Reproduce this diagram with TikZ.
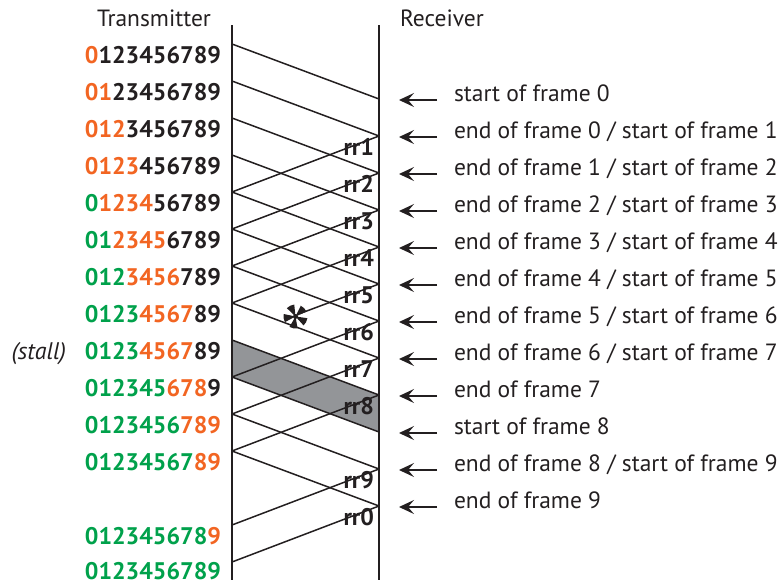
\documentclass[tikz,border=0pt]{standalone}
\usepackage{fontspec}
\setmainfont{PT Sans}
\usetikzlibrary{arrows.meta}
\definecolor{org}{HTML}{F26522}
\definecolor{grn}{HTML}{00A14B}
\definecolor{ink}{HTML}{231F20}
\definecolor{stallgray}{HTML}{939598}
\newcommand\dgt[3]{\textcolor{grn}{#1}\textcolor{org}{#2}\textcolor{ink}{#3}}
\begin{document}
\begin{tikzpicture}[x=1pt,y=-1pt,
  every node/.style={inner sep=0pt,outer sep=0pt,text=ink},
  axis/.style={draw=ink,line width=2pt},
  msg/.style={draw=ink,line width=1.5pt},
  digits/.style={anchor=base east,font=\fontsize{24}{24}\selectfont\bfseries},
  rrlab/.style={anchor=base east,font=\fontsize{24}{24}\selectfont\bfseries},
  evlab/.style={anchor=base west,font=\fontsize{23.5}{24}\selectfont},
  head/.style={anchor=base west,font=\fontsize{23.5}{24}\selectfont},
  evarrow/.style={draw=ink,line width=1.5pt,-{Stealth[length=15pt,width=14pt,inset=6pt]}},
  spoke/.style={fill=ink}]
\useasboundingbox (0,0) rectangle (780,584);
% axes
\coordinate (Ttop) at (232,25); \coordinate (Tbot) at (232,580);
\coordinate (Rtop) at (379,25); \coordinate (Rbot) at (379,580);
% event points
\foreach \k in {0,...,11} {
  \coordinate (L\k) at (232,{44+37*\k});
  \coordinate (R\k) at (379,{99+37*\k});
}
\coordinate (L13) at (232,525);
\coordinate (L14) at (232,562);
% stall region
\fill[stallgray] (L8) -- (R8) -- (R9) -- (L9) -- cycle;
\draw[axis] (Ttop) -- (Tbot);
\draw[axis] (Rtop) -- (Rbot);
% frames
\foreach \k in {0,...,11} { \draw[msg] (L\k) -- (R\k); }
% acknowledgements
\draw[msg] (R1) -- (L4);
\draw[msg] (R2) -- (L5);
\draw[msg] (R3) -- (L6);
\draw[msg] (R4) -- (L7);
\coordinate (lost) at (300,313.5);
\draw[msg] (R5) -- (lost);
\draw[msg] (R6) -- (L9);
\draw[msg] (R7) -- (L10);
\draw[msg] (R8) -- (L11);
\draw[msg] (R10) -- (L13);
\draw[msg] (R11) -- (L14);
% asterisk (lost acknowledgement)
\coordinate (ast) at (295.5,316.5);
\foreach \a in {100,172,244,316,388} {
  \fill[spoke] (ast) -- ++({\a-20}:12) arc[start angle={\a-20}, end angle={\a+20}, radius=12] -- cycle;
}
\fill[ink] (ast) circle[radius=2.5];
% rr labels
\foreach \k/\t in {1/rr1,2/rr2,3/rr3,4/rr4,5/rr5,6/rr6,7/rr7,8/rr8,10/rr9,11/rr0} {
  \node[rrlab] (rr\k) at ([xshift=-5pt,yshift=-19pt]R\k) {\t};
}
% headers
\node[head] (tx) at (97,26) {Transmitter};
\node[head] (rx) at (400,26) {Receiver};
% transmitter windows
\node[digits] (w0) at (221,63) {\dgt{}{0}{123456789}};
\node[digits] (w1) at (221,100) {\dgt{}{01}{23456789}};
\node[digits] (w2) at (221,137) {\dgt{}{012}{3456789}};
\node[digits] (w3) at (221,174) {\dgt{}{0123}{456789}};
\node[digits] (w4) at (221,211) {\dgt{0}{1234}{56789}};
\node[digits] (w5) at (221,248) {\dgt{01}{2345}{6789}};
\node[digits] (w6) at (221,285) {\dgt{012}{3456}{789}};
\node[digits] (w7) at (221,322) {\dgt{0123}{4567}{89}};
\node[digits] (w8) at (221,359) {\dgt{0123}{4567}{89}};
\node[digits] (w9) at (221,396) {\dgt{012345}{678}{9}};
\node[digits] (w10) at (221,433) {\dgt{0123456}{789}{}};
\node[digits] (w11) at (221,470) {\dgt{01234567}{89}{}};
\node[digits] (w13) at (221,544) {\dgt{012345678}{9}{}};
\node[digits] (w14) at (221,579) {\dgt{0123456789}{}{}};
\node[anchor=base east,font=\fontsize{24}{24}\selectfont\itshape] (stall) at (66,359) {(stall)};
% receiver events
\foreach \k/\t in {0/{start of frame 0},
  1/{end of frame 0 / start of frame 1},
  2/{end of frame 1 / start of frame 2},
  3/{end of frame 2 / start of frame 3},
  4/{end of frame 3 / start of frame 4},
  5/{end of frame 4 / start of frame 5},
  6/{end of frame 5 / start of frame 6},
  7/{end of frame 6 / start of frame 7},
  8/{end of frame 7},
  9/{start of frame 8},
  10/{end of frame 8 / start of frame 9},
  11/{end of frame 9}} {
  \coordinate (A\k) at (437,{100+37*\k});
  \coordinate (B\k) at (399,{100+37*\k});
  \node[evlab] (e\k) at (454,{101+37*\k}) {\t};
  \draw[evarrow] (A\k) -- (B\k);
}
\end{tikzpicture}
\end{document}
